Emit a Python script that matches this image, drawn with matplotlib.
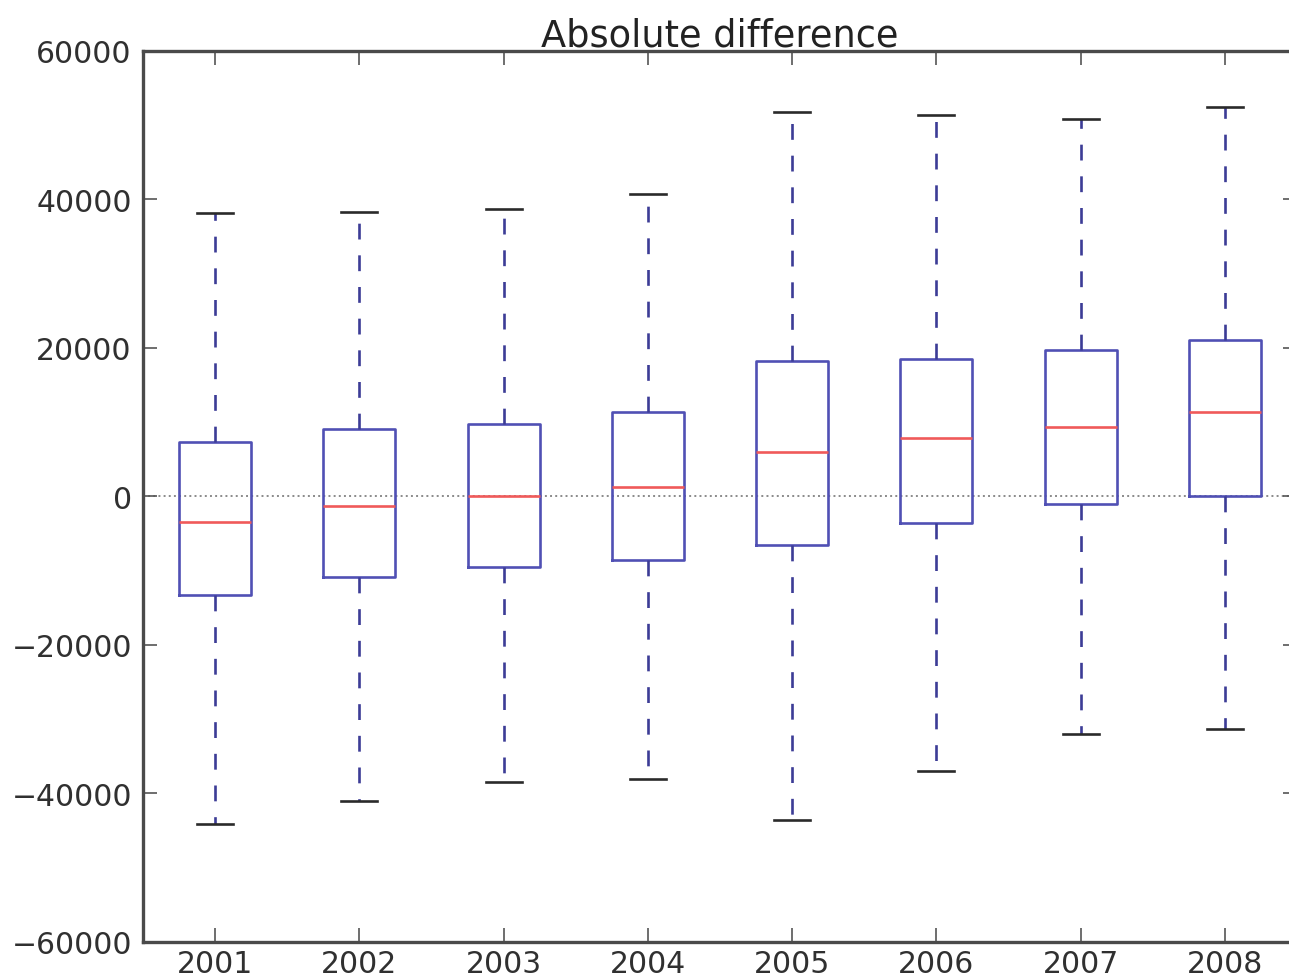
import matplotlib
matplotlib.use("Agg")
import matplotlib.pyplot as plt

# yearly distribution of the absolute difference
years = ["2001", "2002", "2003", "2004", "2005", "2006", "2007", "2008"]
whislo = [-44100, -41000, -38450, -38050, -43570, -36970, -31990, -31310]
q1 = [-13270, -10840, -9500, -8550, -6530, -3570, -1010, 70]
med = [-3430, -1280, 0, 1280, 5990, 7880, 9360, 11380]
q3 = [7340, 9090, 9760, 11380, 18250, 18520, 19730, 21080]
whishi = [38180, 38300, 38700, 40740, 51780, 51380, 50840, 52460]

plt.rcParams['font.family'] = ['DejaVu Sans']
plt.rcParams['font.size'] = 21

fig = plt.figure(figsize=(12.89, 9.79), dpi=100, facecolor='white')
ax = fig.add_axes([0.1109, 0.0368, 0.8953, 0.9101])

stats = []
for i, y in enumerate(years):
    stats.append({'label': y, 'whislo': whislo[i], 'q1': q1[i], 'med': med[i],
                  'q3': q3[i], 'whishi': whishi[i], 'fliers': []})

ax.bxp(stats, widths=0.5, showfliers=False,
       boxprops=dict(color='#5050b4', linewidth=1.9),
       whiskerprops=dict(color='#3c3c96', linewidth=1.9, linestyle=(0, (6, 6))),
       capprops=dict(color='#2a2a2a', linewidth=1.9),
       medianprops=dict(color='#f05a5a', linewidth=1.9))

# zero reference line
ax.axhline(0, color='#8a8a8a', linestyle=':', linewidth=1.4, zorder=0)

ax.set_xlim(0.5, 8.5)
ax.set_ylim(-60000, 60000)
ax.set_yticks([-60000, -40000, -20000, 0, 20000, 40000, 60000])
ax.tick_params(direction='in', length=10, width=1.2, top=True, right=True,
               colors='#555555', labelcolor='#303030', labelsize=21.5)
ax.tick_params(axis='y', pad=8)
ax.tick_params(axis='x', pad=5)
for s in ax.spines.values():
    s.set_linewidth(2.4)
    s.set_color('#4a4a4a')

ax.set_title("Absolute difference", fontsize=26.5, color='#222222', pad=4)

fig.savefig("out.png", dpi=100, facecolor='white')
